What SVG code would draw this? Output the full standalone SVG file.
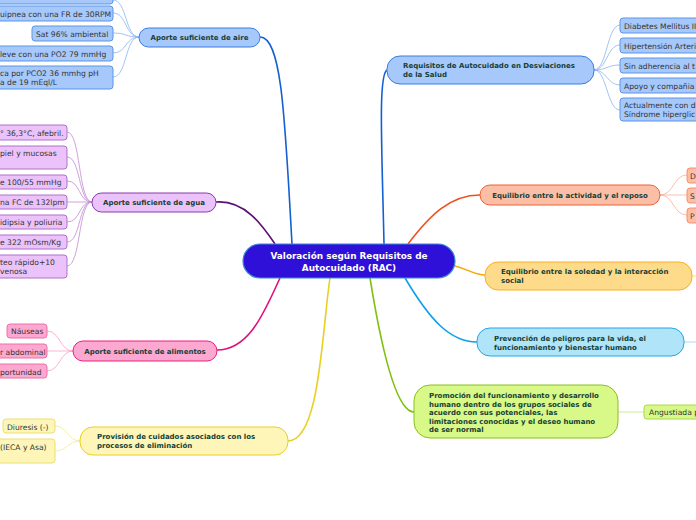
<svg xmlns="http://www.w3.org/2000/svg" width="696" height="520" viewBox="0 0 696 520">
<style>
text{font-family:"DejaVu Sans","Liberation Sans",sans-serif}
.leaf{font-size:7.6px;fill:#333}
.title{font-size:7px;font-weight:bold;fill:#163f35}
.center{font-size:8.9px;font-weight:bold;fill:#fff}
.main{fill:none;stroke-width:1.6}
.sub{fill:none;stroke-width:0.8}
.blue{fill:#a6c8fb;stroke:#3a7de0}
.purple{fill:#ebc3fa;stroke:#8a3aa8}
.pink{fill:#fca8d0;stroke:#e8207e}
.yellow{fill:#fef6b8;stroke:#e8d020}
.orange{fill:#fbbfa8;stroke:#f06030}
.gold{fill:#fedb8a;stroke:#f8b020}
.cyan{fill:#b0e4f8;stroke:#20a8e8}
.green{fill:#d8f888;stroke:#88c020}
.lblue{fill:#a6c8fb;stroke:#5a95ea}
.lpurple{fill:#ebc3fa;stroke:#b070c8}
.lpink{fill:#fca8d0;stroke:#f070a8}
.lyellow{fill:#fef6b8;stroke:#ece070}
.lorange{fill:#fbbfa8;stroke:#f89070}
.lgreen{fill:#d8f888;stroke:#a8d850}
</style>
<rect width="696" height="520" fill="#fff"/>
<g id="connectors">
<path class="main" stroke="#1560d0" d="M292,244 C285,120 282,37 260,37"/>
<path class="main" stroke="#5a1070" d="M216,202 C245,200 262,225 275,244"/>
<path class="main" stroke="#e0107a" d="M217,350 C250,350 265,310 280,278"/>
<path class="main" stroke="#e8d020" d="M288,441 C320,441 322,330 330,278"/>
<path class="main" stroke="#1560d0" d="M384,244 C382,150 378,75 387,70"/>
<path class="main" stroke="#f05020" d="M408,244 C430,215 450,195 480,195"/>
<path class="main" stroke="#f8a800" d="M455,266 C470,270 475,275 485,275"/>
<path class="main" stroke="#10a0e8" d="M405,278 C430,320 450,342 477,342"/>
<path class="main" stroke="#80c010" d="M370,278 C380,340 395,412 414,412"/>
<g stroke="#8ab4f0">
<path class="sub" d="M139,37 C125,37 127,0 113,0"/>
<path class="sub" d="M139,37 C125,37 127,13 113,13"/>
<path class="sub" d="M139,37 C125,37 127,33 113,33"/>
<path class="sub" d="M139,37 C125,37 127,53 113,53"/>
<path class="sub" d="M139,37 C125,37 127,77 113,77"/>
</g>
<g stroke="#c08ad2">
<path class="sub" d="M92,202 C78,202 81,132 67,132"/>
<path class="sub" d="M92,202 C78,202 81,157 67,157"/>
<path class="sub" d="M92,202 C78,202 81,181 67,181"/>
<path class="sub" d="M92,202 C78,202 81,202 67,202"/>
<path class="sub" d="M92,202 C78,202 81,222 67,222"/>
<path class="sub" d="M92,202 C78,202 81,242 67,242"/>
<path class="sub" d="M92,202 C78,202 81,266 67,266"/>
</g>
<g stroke="#f8a0c8">
<path class="sub" d="M73,351 C60,351 60,331 47,331"/>
<path class="sub" d="M73,351 C60,351 60,351 47,351"/>
<path class="sub" d="M73,351 C60,351 60,371 47,371"/>
</g>
<g stroke="#f2e898">
<path class="sub" d="M80,441 C68,441 67,426 55,426"/>
<path class="sub" d="M80,441 C68,441 67,451 55,451"/>
</g>
<g stroke="#8ab4f0">
<path class="sub" d="M594,70 C607,70 607,25 620,25"/>
<path class="sub" d="M594,70 C607,70 607,45 620,45"/>
<path class="sub" d="M594,70 C607,70 607,65 620,65"/>
<path class="sub" d="M594,70 C607,70 607,85 620,85"/>
<path class="sub" d="M594,70 C607,70 607,110 620,110"/>
</g>
<g stroke="#f8b098">
<path class="sub" d="M660,195 C674,195 673,175 687,175"/>
<path class="sub" d="M660,195 C674,195 673,195 687,195"/>
<path class="sub" d="M660,195 C674,195 673,215 687,215"/>
</g>
<path class="sub" stroke="#fcd070" d="M692,276 L696,276"/>
<path class="sub" stroke="#90d4f4" d="M684,342 L696,342"/>
<path class="sub" stroke="#c0e878" d="M618,412 L644,412"/>
</g>
<g id="central">
<rect x="243" y="244" width="212" height="34" rx="17" fill="#2f10d8" stroke="#3a8ad8" stroke-width="1.2"/>
<text class="center" x="349" y="259" text-anchor="middle">Valoración según Requisitos de</text>
<text class="center" x="349" y="271" text-anchor="middle">Autocuidado (RAC)</text>
</g>
<g id="aire">
<rect class="blue" x="139" y="28" width="121" height="19" rx="9.5"/>
<text class="title" x="199.5" y="40" text-anchor="middle">Aporte suficiente de aire</text>
</g>
<g id="aire-leaves">
<rect class="lblue" x="-20" y="-12" width="133" height="16" rx="3"/>
<rect class="lblue" x="-20" y="6" width="133" height="15" rx="3"/>
<text class="leaf" x="0" y="16.5">uipnea con una FR de 30RPM</text>
<rect class="lblue" x="32" y="26" width="81" height="15" rx="3"/>
<text class="leaf" x="36" y="36.5">Sat 96% ambiental</text>
<rect class="lblue" x="-20" y="46" width="133" height="15" rx="3"/>
<text class="leaf" x="0" y="56.5">leve con una PO2 79 mmHg</text>
<rect class="lblue" x="-20" y="66" width="133" height="23" rx="3"/>
<text class="leaf" x="0" y="76">ca por PCO2 36 mmhg pH</text>
<text class="leaf" x="0" y="85">a de 19 mEql/L</text>
</g>
<g id="agua">
<rect class="purple" x="92" y="193" width="124" height="19" rx="9.5"/>
<text class="title" x="154" y="205" text-anchor="middle">Aporte suficiente de agua</text>
</g>
<g id="agua-leaves">
<rect class="lpurple" x="-20" y="125" width="87" height="15" rx="3"/>
<text class="leaf" x="0" y="135.5">° 36,3°C, afebril.</text>
<rect class="lpurple" x="-20" y="146" width="87" height="23" rx="3"/>
<text class="leaf" x="0" y="156">piel y mucosas</text>
<rect class="lpurple" x="-20" y="175" width="87" height="14" rx="3"/>
<text class="leaf" x="0" y="185">e 100/55 mmHg</text>
<rect class="lpurple" x="-20" y="195" width="87" height="14" rx="3"/>
<text class="leaf" x="0" y="205">na FC de 132lpm</text>
<rect class="lpurple" x="-20" y="215" width="87" height="14" rx="3"/>
<text class="leaf" x="0" y="225">idipsia y poliuria</text>
<rect class="lpurple" x="-20" y="235" width="87" height="14" rx="3"/>
<text class="leaf" x="0" y="245">e 322 mOsm/Kg</text>
<rect class="lpurple" x="-20" y="255" width="87" height="23" rx="3"/>
<text class="leaf" x="0" y="265">teo rápido+10</text>
<text class="leaf" x="0" y="274">venosa</text>
</g>
<g id="alimentos">
<rect class="pink" x="73" y="341" width="144" height="20" rx="10"/>
<text class="title" x="145" y="353.5" text-anchor="middle">Aporte suficiente de alimentos</text>
</g>
<g id="alimentos-leaves">
<rect class="lpink" x="7" y="324" width="40" height="14" rx="3"/>
<text class="leaf" x="11" y="334">Náuseas</text>
<rect class="lpink" x="-20" y="344" width="67" height="14" rx="3"/>
<text class="leaf" x="0" y="354.5">r abdominal</text>
<rect class="lpink" x="-20" y="364" width="67" height="14" rx="3"/>
<text class="leaf" x="0" y="374.5">portunidad</text>
</g>
<g id="eliminacion">
<rect class="yellow" x="80" y="427" width="208" height="28" rx="13"/>
<text class="title" x="97" y="439">Provisión de cuidados asociados con los</text>
<text class="title" x="97" y="448">procesos de eliminación</text>
</g>
<g id="eliminacion-leaves">
<rect class="lyellow" x="3" y="419" width="52" height="14" rx="3"/>
<text class="leaf" x="7" y="429.5">Diuresis (-)</text>
<rect class="lyellow" x="-20" y="439" width="75" height="24" rx="3"/>
<text class="leaf" x="0" y="449.5">(IECA y Asa)</text>
</g>
<g id="desviaciones">
<rect class="blue" x="387" y="56" width="207" height="28" rx="13"/>
<text class="title" x="403" y="68">Requisitos de Autocuidado en Desviaciones</text>
<text class="title" x="403" y="77">de la Salud</text>
</g>
<g id="desviaciones-leaves">
<rect class="lblue" x="620" y="18" width="90" height="15" rx="3"/>
<text class="leaf" x="624" y="28.5">Diabetes Mellitus II</text>
<rect class="lblue" x="620" y="38" width="90" height="15" rx="3"/>
<text class="leaf" x="624" y="48.5">Hipertensión Arteri</text>
<rect class="lblue" x="620" y="58" width="90" height="15" rx="3"/>
<text class="leaf" x="624" y="68.5">Sin adherencia al t</text>
<rect class="lblue" x="620" y="78" width="90" height="15" rx="3"/>
<text class="leaf" x="624" y="88.5">Apoyo y compañia</text>
<rect class="lblue" x="620" y="98" width="90" height="23" rx="3"/>
<text class="leaf" x="624" y="108">Actualmente con di</text>
<text class="leaf" x="624" y="117">Síndrome hiperglic</text>
</g>
<g id="actividad">
<rect class="orange" x="480" y="185" width="180" height="20" rx="10"/>
<text class="title" x="570" y="197.5" text-anchor="middle">Equilibrio entre la  actividad y el reposo</text>
</g>
<g id="actividad-leaves">
<rect class="lorange" x="687" y="168" width="20" height="15" rx="3"/>
<text class="leaf" x="690" y="178.5">D</text>
<rect class="lorange" x="687" y="188" width="20" height="15" rx="3"/>
<text class="leaf" x="690" y="198.5">S</text>
<rect class="lorange" x="687" y="208" width="20" height="15" rx="3"/>
<text class="leaf" x="690" y="218.5">P</text>
</g>
<g id="soledad">
<rect class="gold" x="485" y="262" width="207" height="28" rx="13"/>
<text class="title" x="501" y="274">Equilibrio entre la soledad y la interacción</text>
<text class="title" x="501" y="283">social</text>
</g>
<g id="prevencion">
<rect class="cyan" x="477" y="328" width="207" height="28" rx="13"/>
<text class="title" x="494" y="341">Prevención de peligros para la vida, el</text>
<text class="title" x="494" y="350">funcionamiento y  bienestar humano</text>
</g>
<g id="promocion">
<rect class="green" x="414" y="385" width="204" height="53" rx="16"/>
<text class="title" x="429" y="398">Promoción del funcionamiento y desarrollo</text>
<text class="title" x="429" y="406.5">humano dentro de los grupos sociales de</text>
<text class="title" x="429" y="415">acuerdo con sus potenciales, las</text>
<text class="title" x="429" y="423.5">limitaciones  conocidas y el deseo humano</text>
<text class="title" x="429" y="432">de ser normal</text>
</g>
<g id="promocion-leaf">
<rect class="lgreen" x="644" y="405" width="70" height="14" rx="3"/>
<text class="leaf" x="649" y="415">Angustiada p</text>
</g>
</svg>
